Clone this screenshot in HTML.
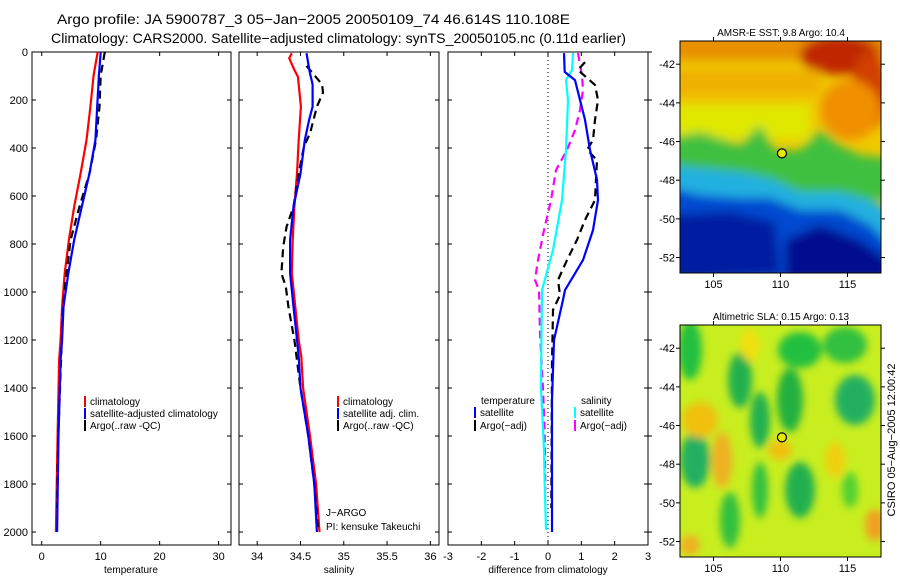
<!DOCTYPE html>
<html><head><meta charset="utf-8">
<style>
html,body{margin:0;padding:0;background:#fff;}
svg{display:block;font-family:"Liberation Sans",sans-serif;}
</style></head>
<body>
<svg id="fig" width="900" height="580" viewBox="0 0 900 580" xmlns="http://www.w3.org/2000/svg">
<defs>
<filter id="blur1" x="-10%" y="-10%" width="120%" height="120%"><feGaussianBlur stdDeviation="5"/></filter>
<filter id="blur2" x="-10%" y="-10%" width="120%" height="120%"><feGaussianBlur stdDeviation="4"/></filter>
<clipPath id="clipA"><rect x="680" y="41" width="201" height="232"/></clipPath>
<clipPath id="clipB"><rect x="680" y="325" width="201" height="232"/></clipPath>
</defs>
<text x="57" y="24" font-size="14" textLength="513" lengthAdjust="spacingAndGlyphs">Argo profile: JA 5900787_3 05−Jan−2005 20050109_74 46.614S 110.108E</text>
<text x="51" y="43" font-size="14" textLength="575" lengthAdjust="spacingAndGlyphs">Climatology: CARS2000. Satellite−adjusted climatology: synTS_20050105.nc (0.11d earlier)</text>

<g id="mapA" clip-path="url(#clipA)">
<rect x="680" y="41" width="201" height="232" fill="#f0c800"/>
<g filter="url(#blur1)">
<rect x="670" y="30" width="220" height="30" fill="#e89000"/>
<ellipse cx="840" cy="55" rx="40" ry="20" fill="#c02800"/>
<ellipse cx="870" cy="90" rx="18" ry="40" fill="#d04000"/>
<ellipse cx="850" cy="110" rx="30" ry="30" fill="#f09000"/>
<rect x="670" y="70" width="150" height="25" fill="#f0b000"/>
<rect x="670" y="105" width="140" height="35" fill="#e0e800"/>
<path d="M670 138 L700 132 L740 145 L760 125 L775 150 L800 150 L820 130 L840 145 L860 155 L890 158 L890 200 L670 200Z" fill="#40c040"/>
<path d="M670 165 L700 168 L740 172 L770 178 L800 192 L840 192 L870 200 L890 210 L890 240 L670 240Z" fill="#20b0e0"/>
<path d="M670 188 L700 195 L740 198 L770 198 L800 210 L840 210 L870 225 L890 245 L890 280 L670 280Z" fill="#0048d0"/>
<path d="M670 215 L730 212 L775 222 L780 275 L670 280Z" fill="#001aa0"/>
<path d="M785 240 L820 225 L860 240 L890 262 L890 280 L785 280Z" fill="#000c90"/>
</g>
</g>
<g id="mapB" clip-path="url(#clipB)">
<rect x="680" y="325" width="201" height="232" fill="#c8ee20"/>
<g filter="url(#blur2)">
<ellipse cx="690" cy="350" rx="12" ry="30" fill="#20c040"/>
<ellipse cx="740" cy="380" rx="12" ry="28" fill="#20b050"/>
<ellipse cx="800" cy="350" rx="22" ry="18" fill="#20c040"/>
<ellipse cx="845" cy="345" rx="22" ry="18" fill="#30c040"/>
<ellipse cx="855" cy="400" rx="20" ry="25" fill="#20b060"/>
<ellipse cx="790" cy="400" rx="13" ry="32" fill="#20b040"/>
<ellipse cx="760" cy="420" rx="10" ry="28" fill="#20b050"/>
<ellipse cx="695" cy="460" rx="15" ry="28" fill="#20b060"/>
<ellipse cx="800" cy="490" rx="15" ry="28" fill="#20b050"/>
<ellipse cx="760" cy="490" rx="8" ry="28" fill="#30c040"/>
<ellipse cx="730" cy="520" rx="10" ry="28" fill="#30c040"/>
<ellipse cx="850" cy="490" rx="8" ry="18" fill="#50d030"/>
<ellipse cx="700" cy="420" rx="18" ry="18" fill="#f0c010"/>
<ellipse cx="722" cy="460" rx="10" ry="28" fill="#f0b020"/>
<ellipse cx="780" cy="450" rx="12" ry="10" fill="#f0c010"/>
<ellipse cx="835" cy="460" rx="10" ry="18" fill="#f0d010"/>
<ellipse cx="875" cy="525" rx="10" ry="16" fill="#f0a020"/>
<ellipse cx="690" cy="545" rx="10" ry="10" fill="#f0b020"/>
<ellipse cx="750" cy="345" rx="10" ry="16" fill="#f0e010"/>
</g>
</g>
<g id="chart"></g>
</svg>
<script>
// ---- temperature panel data ----
const tClimDepth=[0,97,228,367,506,644,783,922,1061,1200,1283,1600,2000];
const tClim=[9.5,8.8,8.25,7.6,6.6,5.5,4.6,3.9,3.45,3.2,2.95,2.7,2.4];
const tSatDepth=[0,97,228,367,506,644,783,922,1061,1200,1283,1600,2000];
const tSat=[10.0,9.7,9.4,9.1,8.1,6.8,5.5,4.5,3.7,3.45,3.2,2.85,2.6];
const tArgoDepth=[0,97,228,367,506,644,783,922,1061,1200,1600,1900];
const tArgo=[10.7,10.0,9.8,9.2,8.1,6.4,4.9,4.2,3.6,3.4,2.8,2.6];
// ---- salinity panel data ----
const sClimDepth=[5,26,75,103,228,367,506,644,783,922,1061,1200,1269,1400,1600,1800,2000];
const sClim=[34.40,34.37,34.43,34.47,34.505,34.48,34.46,34.43,34.41,34.40,34.44,34.48,34.51,34.53,34.61,34.68,34.72];
const sSatDepth=[5,89,135,228,283,367,506,644,783,922,1061,1200,1269,1400,1600,1800,2000];
const sSat=[34.57,34.61,34.64,34.64,34.60,34.55,34.50,34.42,34.38,34.38,34.42,34.46,34.48,34.50,34.59,34.66,34.69];
const sArgoDepth=[58,135,169,228,339,394,506,644,728,811,922,978,1061,1200,1400,1600,1800,1980];
const sArgo=[34.57,34.75,34.76,34.69,34.61,34.54,34.48,34.42,34.34,34.30,34.28,34.33,34.36,34.43,34.50,34.59,34.66,34.70];
// ---- difference panel data ----
const dTsatDepth=[5,83,117,283,408,533,617,742,867,992,1033,1200,1450,1600,2000];
const dTsat=[0.48,0.5,0.81,1.11,1.26,1.47,1.5,1.35,1.05,0.51,0.45,0.18,0.12,0.12,0.12];
const dTargoDepth=[42,75,137,200,283,367,408,450,617,700,783,867,950,1013,1075,1300,1900];
const dTargo=[1.11,0.9,1.41,1.5,1.41,1.35,1.17,1.47,1.41,1.11,0.87,0.57,0.3,0.36,0.15,0.12,0.1];
const dSsatDepth=[4,75,117,200,408,617,825,992,1242,1400,1658,1800,1992];
const dSsat=[0.75,0.72,0.54,0.6,0.54,0.42,0.15,-0.18,-0.2,-0.21,-0.12,-0.1,-0.06];
const dSargoDepth=[4,100,158,242,325,408,492,617,742,867,950,992,1171,1400,1588,1825];
const dSargo=[0.9,1.02,1.05,0.96,0.81,0.57,0.24,0.09,-0.12,-0.3,-0.39,-0.27,-0.24,-0.15,-0.1,-0.08];
// ---- axis ticks ----
const depthTicks=[0,200,400,600,800,1000,1200,1400,1600,1800,2000];
const tTicks=[0,10,20,30];
const sTicks=[34,34.5,35,35.5,36];
const sTickLabels=["34","34.5","35","35.5","36"];
const dTicks=[-3,-2,-1,0,1,2,3];
const latTicks=[-42,-44,-46,-48,-50,-52];
const lonTicks=[105,110,115];
const argoLon=110.108, argoLat=-46.614;

const NS="http://www.w3.org/2000/svg";
const g=document.getElementById('chart');
function el(tag,attrs,parent){const e=document.createElementNS(NS,tag);for(const k in attrs)e.setAttribute(k,attrs[k]);(parent||g).appendChild(e);return e;}
const Y0=52,Y1=545,DMAX=2054;
function yD(d){return Y0+d*(Y1-Y0)/DMAX;}
const panels=[
 {x0:32,x1:231,min:-1.65,max:32.1},
 {x0:239,x1:439,min:33.79,max:36.1},
 {x0:448,x1:648,min:-3,max:3}
];
function xS(p,v){return p.x0+(v-p.min)*(p.x1-p.x0)/(p.max-p.min);}
function line(p,depths,vals,color,dash,name){
  let pts=depths.map((d,i)=>xS(p,vals[i]).toFixed(1)+","+yD(d).toFixed(1)).join(" ");
  const l=el('polyline',{points:pts,fill:'none',stroke:color,'stroke-width':2.2});
  if(dash)l.setAttribute('stroke-dasharray',dash);
  
  
}
function txt(x,y,s,size,anchor,name,parent){const t=el('text',{x:x,y:y,'font-size':size,'text-anchor':anchor||'start'},parent);t.textContent=s;return t;}
panels.forEach((p,pi)=>{
  const f=el('rect',{x:p.x0,y:Y0,width:p.x1-p.x0,height:Y1-Y0,fill:'none',stroke:'#000','stroke-width':1});
  
  
  depthTicks.forEach(d=>{el('line',{x1:p.x0,x2:p.x0+4,y1:yD(d),y2:yD(d),stroke:'#000'});el('line',{x1:p.x1-4,x2:p.x1,y1:yD(d),y2:yD(d),stroke:'#000'});});
});
depthTicks.forEach(d=>txt(28,yD(d)+4,String(d),11,'end','depth-tick-label'));
function xt(p,ticks,labels,name){ticks.forEach((v,i)=>{const x=xS(p,v);el('line',{x1:x,x2:x,y1:Y0,y2:Y0+4,stroke:'#000'});el('line',{x1:x,x2:x,y1:Y1-4,y2:Y1,stroke:'#000'});txt(x,560,labels[i],11,'middle',name);});}
xt(panels[0],tTicks,tTicks.map(String),'temperature-tick-label');
xt(panels[1],sTicks,sTickLabels,'salinity-tick-label');
xt(panels[2],dTicks,dTicks.map(String),'difference-tick-label');
txt(131,573,'temperature',10,'middle','x-axis-title-temperature');
txt(339,573,'salinity',10,'middle','x-axis-title-salinity');
txt(548,573,'difference from climatology',10,'middle','x-axis-title-difference');
const z=el('line',{x1:xS(panels[2],0),x2:xS(panels[2],0),y1:Y0,y2:Y1,stroke:'#000','stroke-dasharray':'1,3'});


depthTicks.forEach(d=>el('line',{x1:648,x2:652,y1:yD(d),y2:yD(d),stroke:'#000'}));
line(panels[0],tClimDepth,tClim,'#f00',null,'temp-climatology-line');
line(panels[0],tArgoDepth,tArgo,'#000','8,5','temp-argo-line');
line(panels[0],tSatDepth,tSat,'#00f',null,'temp-satellite-line');
line(panels[1],sClimDepth,sClim,'#f00',null,'sal-climatology-line');
line(panels[1],sArgoDepth,sArgo,'#000','8,5','sal-argo-line');
line(panels[1],sSatDepth,sSat,'#00f',null,'sal-satellite-line');
line(panels[2],dSargoDepth,dSargo,'#f0f','8,5','diff-sal-argo-line');
line(panels[2],dSsatDepth,dSsat,'#0ff',null,'diff-sal-satellite-line');
line(panels[2],dTargoDepth,dTargo,'#000','8,5','diff-temp-argo-line');
line(panels[2],dTsatDepth,dTsat,'#00f',null,'diff-temp-satellite-line');
function leg(x,y,color,label,name){const r=el('rect',{x:x,y:y-9,width:2,height:11,fill:color});if(label)txt(x+6,y,label,10,'start',name);}
leg(84,405,'#f00','climatology','legend-climatology');
leg(84,417,'#00f','satellite-adjusted climatology','legend-satellite-adjusted');
leg(84,429,'#000','Argo(..raw -QC)','legend-argo');
leg(337,405,'#f00','climatology','legend2-climatology');
leg(337,417,'#00f','satellite adj. clim.','legend2-satellite');
leg(337,429,'#000','Argo(..raw -QC)','legend2-argo');
txt(481,404,'temperature',10,'start','legend3-temperature-header');
leg(474,416,'#00f','satellite','legend3-temp-satellite');
leg(474,429,'#000','Argo(−adj)','legend3-temp-argo');
txt(581,404,'salinity',10,'start','legend3-salinity-header');
leg(574,416,'#0ff','satellite','legend3-sal-satellite');
leg(574,429,'#f0f','Argo(−adj)','legend3-sal-argo');
txt(326,516,'J−ARGO',10,'start','ji-argo-label');
txt(326,530,'PI: kensuke Takeuchi',10,'start','pi-label');
function mapAxes(top,title,name){
  const LX0=680,LX1=881,lonMin=102.5,lonMax=117.5,latTop=-40.8,latBot=-52.8,H=232;
  const lx=v=>LX0+(v-lonMin)*(LX1-LX0)/(lonMax-lonMin);
  const ly=v=>top+(latTop-v)*H/(latTop-latBot);
  const f=el('rect',{x:LX0,y:top,width:LX1-LX0,height:H,fill:'none',stroke:'#000'});
  
  
  latTicks.forEach(v=>{el('line',{x1:LX0-4,x2:LX0,y1:ly(v),y2:ly(v),stroke:'#000'});el('line',{x1:LX1,x2:LX1+4,y1:ly(v),y2:ly(v),stroke:'#000'});txt(675,ly(v)+4,String(v),11,'end',name+'-lat-label');});
  lonTicks.forEach(v=>{el('line',{x1:lx(v),x2:lx(v),y1:top-4,y2:top,stroke:'#000'});el('line',{x1:lx(v),x2:lx(v),y1:top+H,y2:top+H+4,stroke:'#000'});txt(lx(v),top+H+15,String(v),11,'middle',name+'-lon-label');});
  txt(781,top-5,title,10,'middle',name+'-title');
  const c=el('circle',{cx:lx(argoLon),cy:ly(argoLat),r:4.5,fill:'#e8e800',stroke:'#000','stroke-width':1.2});
  
  
}
mapAxes(41,'AMSR-E SST: 9.8 Argo: 10.4','sst-map');
mapAxes(325,'Altimetric SLA: 0.15 Argo: 0.13','sla-map');
const rt=txt(0,0,'CSIRO 05−Aug−2005 12:00:42',11,'middle','timestamp-label');
rt.setAttribute('transform','translate(895,440) rotate(-90)');
</script>
</body></html>
